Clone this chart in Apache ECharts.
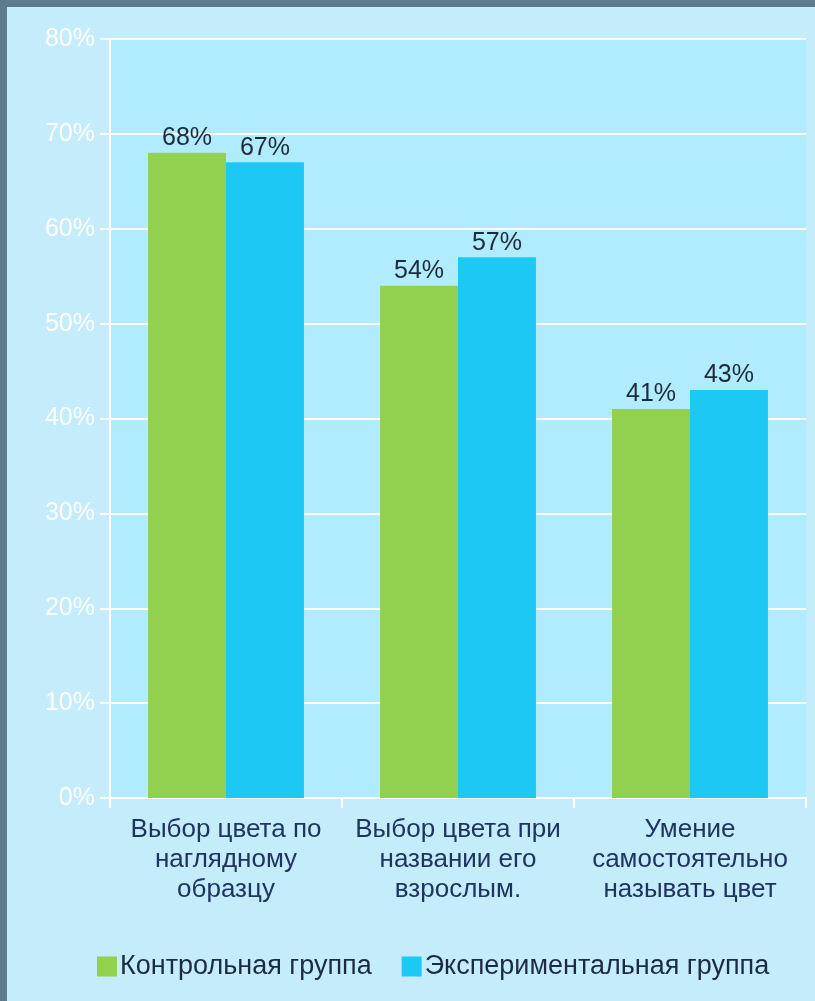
<!DOCTYPE html>
<html>
<head>
<meta charset="utf-8">
<script src="https://cdn.jsdelivr.net/npm/echarts@6/dist/echarts.min.js"></script>
<style>
html,body{margin:0;padding:0;width:815px;height:1001px;background:#5d7b8a;overflow:hidden;}
#chart{position:absolute;left:7px;top:7px;width:808px;height:994px;}
</style>
</head>
<body>
<div id="chart"></div>
<script>
const categories = ['Выбор цвета по\nнаглядному\nобразцу', 'Выбор цвета при\nназвании его\nвзрослым.', 'Умение\nсамостоятельно\nназывать цвет'];
const seriesNames = ['Контрольная группа', 'Экспериментальная группа'];
const controlValues = [68, 54, 41];
const experimentalValues = [67, 57, 43];
const yTicks = { min: 0, max: 80, interval: 10 };

const font = 'Arial, "Liberation Sans", sans-serif';
const chart = echarts.init(document.getElementById('chart'));
chart.setOption({
  backgroundColor: '#c4ecfb',
  animation: false,
  textStyle: { fontFamily: font },
  grid: { left: 103, right: 9, top: 32, bottom: 203, show: true, backgroundColor: '#b0ecfd', borderWidth: 0 },
  legend: {
    bottom: 16, left: 85,
    itemWidth: 20, itemHeight: 20, itemGap: 30,
    icon: 'rect',
    textStyle: { color: '#1c2b44', fontSize: 27, fontFamily: font, padding: [0, 0, 0, -2] },
    data: seriesNames
  },
  xAxis: {
    type: 'category',
    data: categories,
    axisLine: { lineStyle: { color: '#ffffff', width: 2 } },
    axisTick: { show: true, length: 10, lineStyle: { color: '#ffffff', width: 2 } },
    axisLabel: { interval: 0, color: '#1f3560', fontSize: 26, lineHeight: 30, margin: 17, fontFamily: font }
  },
  yAxis: {
    type: 'value',
    min: yTicks.min, max: yTicks.max, interval: yTicks.interval,
    axisLine: { show: true, lineStyle: { color: '#ffffff', width: 2 } },
    axisTick: { show: true, length: 10, lineStyle: { color: '#ffffff', width: 2 } },
    axisLabel: { formatter: '{value}%', color: '#ffffff', fontSize: 25, margin: 15, fontFamily: font },
    splitLine: { lineStyle: { color: '#ffffff', width: 2 } }
  },
  series: [
    {
      name: seriesNames[0], type: 'bar', data: controlValues,
      barWidth: '33.6%', barGap: '0%',
      itemStyle: { color: '#92d050' },
      label: { show: true, position: 'top', distance: 2, formatter: '{c}%', color: '#1b2a3c', fontSize: 25, fontFamily: font }
    },
    {
      name: seriesNames[1], type: 'bar', data: experimentalValues,
      barWidth: '33.6%', barGap: '0%',
      itemStyle: { color: '#1ec8f4' },
      label: { show: true, position: 'top', distance: 2, formatter: '{c}%', color: '#1b2a3c', fontSize: 25, fontFamily: font }
    }
  ]
});
</script>
</body>
</html>
